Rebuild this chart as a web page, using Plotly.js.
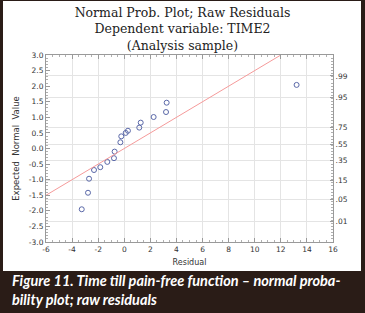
<!DOCTYPE html>
<html><head><meta charset="utf-8">
<script src="https://cdn.plot.ly/plotly-3.0.1.min.js"></script>
<style>html,body{margin:0;padding:0;background:#fff;}#chart{width:365px;height:313px;}</style>
</head><body><div id="chart"></div>
<script>
// ---- data ----
const residuals = [-3.26, -2.78, -2.70, -2.32, -1.84, -1.30, -0.79, -0.74, -0.30, -0.23, 0.11, 0.28, 1.15, 1.26, 2.25, 3.20, 3.25, 13.21];
const expectedNormal = [-1.95, -1.42, -0.97, -0.69, -0.60, -0.43, -0.31, -0.10, 0.20, 0.39, 0.50, 0.57, 0.67, 0.83, 1.01, 1.17, 1.47, 2.04];
const refLineX = [-6, 12];
const refLineY = [-1.5, 3.0];
const xTickVals = [-6, -4, -2, 0, 2, 4, 6, 8, 10, 12, 14, 16];
const yTickVals = [-3, -2.5, -2, -1.5, -1, -0.5, 0, 0.5, 1, 1.5, 2, 2.5, 3];
const probValues = [0.01, 0.05, 0.15, 0.35, 0.55, 0.75, 0.95, 0.99];
const probLabels = ['.01', '.05', '.15', '.35', '.55', '.75', '.95', '.99'];
const titleLines = ['Normal Prob. Plot; Raw Residuals', 'Dependent variable: TIME2', '(Analysis sample)'];
const xTitle = 'Residual';
const yTitle = 'Expected  Normal  Value';
const captionLines = ['Figure 11. Time till pain-free function \u2013 normal proba-', 'bility plot; raw residuals'];

// inverse normal (Abramowitz & Stegun 26.2.23) for probability tick positions
function invNorm(p) {
  const q = p < 0.5 ? p : 1 - p;
  const t = Math.sqrt(-2 * Math.log(q));
  const z = t - (2.515517 + 0.802853 * t + 0.010328 * t * t) / (1 + 1.432788 * t + 0.189269 * t * t + 0.001308 * t * t * t);
  return p < 0.5 ? -z : z;
}
const probPositions = probValues.map(invNorm);

const W = 365, H = 313;
const M = {l: 46, r: 32, t: 55, b: 71};
const PW = W - M.l - M.r, PH = H - M.t - M.b;
const px2x = px => (px - M.l) / PW;
const py2y = py => (H - M.b - py) / PH;

const dark = '#2a1c17';
const axisColor = '#9a9a9a';
const gridColor = '#e4e4e4';
const tickFont = {family: 'DejaVu Sans', size: 7.5, color: '#333'};

const traces = [
  {x: refLineX, y: refLineY, type: 'scatter', mode: 'lines', yaxis: 'y2',
   line: {color: '#f59a9a', width: 1}, hoverinfo: 'skip', showlegend: false},
  {x: residuals, y: expectedNormal, type: 'scatter', mode: 'markers',
   marker: {symbol: 'circle-open', size: 5, color: '#5a68a8', line: {width: 1}}, showlegend: false}
];

const layout = {
  width: W, height: H, margin: M,
  paper_bgcolor: '#fff', plot_bgcolor: '#fff', showlegend: false,
  title: {text: titleLines.join('<br>'), font: {family: 'DejaVu Serif', size: 12.5, color: '#222'},
          x: 0.5, xref: 'container', xanchor: 'center', y: 0.945, yref: 'container', yanchor: 'top'},
  xaxis: {range: [-6, 16], tickvals: xTickVals, ticktext: xTickVals.map(String),
          showgrid: true, gridcolor: gridColor, gridwidth: 1, zeroline: false,
          showline: true, linecolor: axisColor, linewidth: 1, mirror: 'ticks',
          ticks: 'inside', ticklen: 4, tickcolor: axisColor,
          minor: {ticks: 'inside', ticklen: 2, tickcolor: '#b0b0b0', dtick: 0.5, showgrid: false},
          tickfont: tickFont,
          title: {text: xTitle, font: {family: 'DejaVu Sans', size: 8, color: '#333'}, standoff: 6}},
  yaxis: {range: [-3, 3], tickvals: yTickVals, ticktext: yTickVals.map(v => v.toFixed(1)),
          showgrid: false, zeroline: false, showline: true, linecolor: axisColor, linewidth: 1,
          ticks: 'inside', ticklen: 4, tickcolor: axisColor,
          minor: {ticks: 'inside', ticklen: 2, tickcolor: '#b0b0b0', dtick: 0.1},
          tickfont: tickFont,
          title: {text: yTitle, font: {family: 'DejaVu Sans', size: 8.5, color: '#333'}, standoff: 7}},
  yaxis2: {overlaying: 'y', side: 'right', range: [-3, 3], tickvals: probPositions, ticktext: probLabels,
           showgrid: true, gridcolor: gridColor, gridwidth: 1, zeroline: false,
           showline: true, linecolor: axisColor, linewidth: 1,
           ticks: 'inside', ticklen: 3, tickcolor: axisColor,
           minor: {ticks: 'inside', ticklen: 2, tickcolor: '#b0b0b0', dtick: 0.1},
           tickfont: tickFont},
  shapes: [
    {type: 'rect', xref: 'paper', yref: 'paper', x0: px2x(0), x1: px2x(W), y0: py2y(271), y1: py2y(H),
     fillcolor: dark, line: {width: 0}, layer: 'above'},
    {type: 'rect', xref: 'paper', yref: 'paper', x0: px2x(0), x1: px2x(3), y0: py2y(0), y1: py2y(H),
     fillcolor: dark, line: {width: 0}, layer: 'above'},
    {type: 'rect', xref: 'paper', yref: 'paper', x0: px2x(361), x1: px2x(W), y0: py2y(0), y1: py2y(H),
     fillcolor: dark, line: {width: 0}, layer: 'above'},
    {type: 'rect', xref: 'paper', yref: 'paper', x0: px2x(0), x1: px2x(W), y0: py2y(0), y1: py2y(1),
     fillcolor: dark, line: {width: 0}, layer: 'above'}
  ],
  annotations: [{
    text: captionLines.join('<br>'), xref: 'paper', yref: 'paper', x: px2x(10), y: py2y(290),
    xanchor: 'left', yanchor: 'middle', showarrow: false, align: 'left',
    font: {family: 'Lato', size: 14.5, color: '#fff', weight: 'bold', style: 'italic'}
  }]
};

Plotly.newPlot('chart', traces, layout, {staticPlot: true, displayModeBar: false});
</script></body></html>
